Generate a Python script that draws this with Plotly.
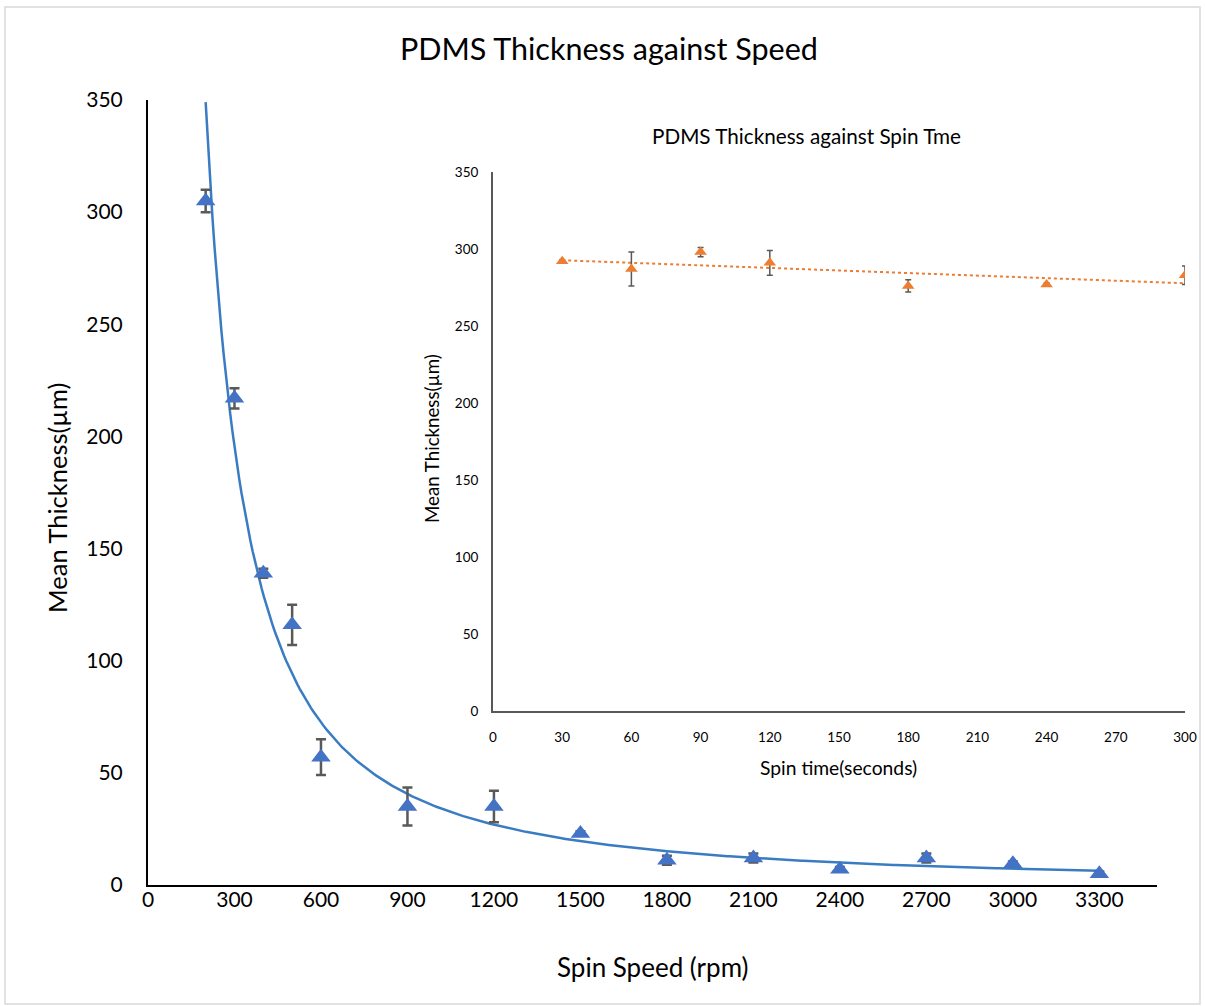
import numpy as np
import plotly.graph_objects as go

W, H = 1205, 1006

# ---- Main chart data: thickness vs spin speed ----
speed_rpm = [200, 300, 400, 500, 600, 900, 1200, 1500, 1800, 2100, 2400, 2700, 3000, 3300]
thickness_speed = [305, 217, 139, 116, 57, 35, 35, 23, 11, 12, 7, 12, 9.5, 5]
err_speed = [5, 4.5, 2, 9, 8, 8.5, 7, 1, 2, 2, 1, 2, 1, 1]
speed_ticks = [0, 300, 600, 900, 1200, 1500, 1800, 2100, 2400, 2700, 3000, 3300]

# ---- Inset data: thickness vs spin time ----
spin_time_s = [30, 60, 90, 120, 180, 240, 300]
thickness_time = [292, 287, 298, 291, 276, 277, 283]
err_time = [1, 11, 3, 8, 4, 1, 6]
time_ticks = [0, 30, 60, 90, 120, 150, 180, 210, 240, 270, 300]
thick_ticks = [0, 50, 100, 150, 200, 250, 300, 350]

FONT = "Lato"

def px_x(p):
    return p / W

def px_y(p):
    return 1 - p / H

# Power-law trendline (least squares in log-log space, like Excel "Power")
m, c = np.polyfit(np.log(speed_rpm), np.log(thickness_speed), 1)
xs_fit = np.linspace(min(speed_rpm), max(speed_rpm), 400)
ys_fit = np.exp(c) * xs_fit ** m

# Linear trendline for inset
m2, c2 = np.polyfit(spin_time_s, thickness_time, 1)
xt_fit = np.array([min(spin_time_s), max(spin_time_s)])
yt_fit = m2 * xt_fit + c2

fig = go.Figure()

fig.add_trace(go.Scatter(
    x=xs_fit, y=ys_fit, mode="lines",
    line=dict(color="#3A7CC2", width=2.5),
    xaxis="x", yaxis="y", showlegend=False, hoverinfo="skip"))

fig.add_trace(go.Scatter(
    x=speed_rpm, y=thickness_speed, mode="markers",
    marker=dict(symbol="triangle-up", size=17, color="#4472C4"),
    error_y=dict(type="data", array=err_speed, color="#595959", thickness=2.5, width=5),
    xaxis="x", yaxis="y", showlegend=False))

fig.add_trace(go.Scatter(
    x=xt_fit, y=yt_fit, mode="lines",
    line=dict(color="#ED7D31", width=2, dash="dot"),
    xaxis="x2", yaxis="y2", showlegend=False, hoverinfo="skip"))

fig.add_trace(go.Scatter(
    x=spin_time_s, y=thickness_time, mode="markers",
    marker=dict(symbol="triangle-up", size=11, color="#ED7D31"),
    error_y=dict(type="data", array=err_time, color="#595959", thickness=1.5, width=3),
    xaxis="x2", yaxis="y2", showlegend=False))

fig.update_layout(
    width=W, height=H,
    margin=dict(l=0, r=0, t=0, b=0, pad=0, autoexpand=False),
    paper_bgcolor="white", plot_bgcolor="rgba(0,0,0,0)",
    font=dict(family=FONT, color="#000000"),
    xaxis=dict(
        domain=[px_x(148), px_x(1157)], range=[0, 3500],
        tickvals=speed_ticks, showgrid=False, zeroline=False, automargin=False,
        showline=True, linecolor="#000000", linewidth=2, ticks="",
        tickfont=dict(size=21, family=FONT), ticklabelstandoff=-5,
        anchor="y"),
    yaxis=dict(
        domain=[px_y(885), px_y(100)], range=[0, 350],
        tickvals=thick_ticks, showgrid=False, zeroline=False, automargin=False,
        showline=True, linecolor="#000000", linewidth=2, ticks="",
        tickfont=dict(size=21, family=FONT), ticklabelstandoff=19,
        anchor="x"),
    xaxis2=dict(
        domain=[px_x(493), px_x(1185)], range=[0, 300],
        tickvals=time_ticks, showgrid=False, zeroline=False, automargin=False,
        showline=True, linecolor="#595959", linewidth=2, ticks="",
        tickfont=dict(size=13.5, family=FONT), ticklabelstandoff=13,
        anchor="y2"),
    yaxis2=dict(
        domain=[px_y(711), px_y(172)], range=[0, 350],
        tickvals=thick_ticks, showgrid=False, zeroline=False, automargin=False,
        showline=True, linecolor="#595959", linewidth=2, ticks="",
        tickfont=dict(size=13.5, family=FONT), ticklabelstandoff=10,
        anchor="x2"),
    shapes=[dict(type="rect", xref="paper", yref="paper",
                 x0=px_x(5), x1=px_x(1200), y0=px_y(1004), y1=px_y(7),
                 line=dict(color="#D9D9D9", width=1.5), layer="below")],
    annotations=[
        dict(text="PDMS Thickness against Speed", x=px_x(609), y=px_y(48),
             xref="paper", yref="paper", showarrow=False,
             font=dict(size=30.5, family=FONT), xanchor="center", yanchor="middle"),
        dict(text="Spin Speed (rpm)", x=px_x(653), y=px_y(967),
             xref="paper", yref="paper", showarrow=False,
             font=dict(size=26, family=FONT), xanchor="center", yanchor="middle"),
        dict(text="Mean Thickness(µm)", x=px_x(57), y=px_y(498),
             xref="paper", yref="paper", showarrow=False, textangle=-90,
             font=dict(size=25.5, family=FONT), xanchor="center", yanchor="middle"),
        dict(text="PDMS Thickness against Spin Tme", x=px_x(807), y=px_y(136),
             xref="paper", yref="paper", showarrow=False,
             font=dict(size=20.7, family=FONT), xanchor="center", yanchor="middle"),
        dict(text="Spin time(seconds)", x=px_x(838), y=px_y(767),
             xref="paper", yref="paper", showarrow=False,
             font=dict(size=19.3, family=FONT), xanchor="center", yanchor="middle"),
        dict(text="Mean Thickness(µm)", x=px_x(432), y=px_y(439),
             xref="paper", yref="paper", showarrow=False, textangle=-90,
             font=dict(size=18.7, family=FONT), xanchor="center", yanchor="middle"),
    ],
)

fig.write_html(
    "out.html",
    config={"displayModeBar": False},
    post_script="document.body.style.margin='0';document.body.style.overflow='hidden';",
)
